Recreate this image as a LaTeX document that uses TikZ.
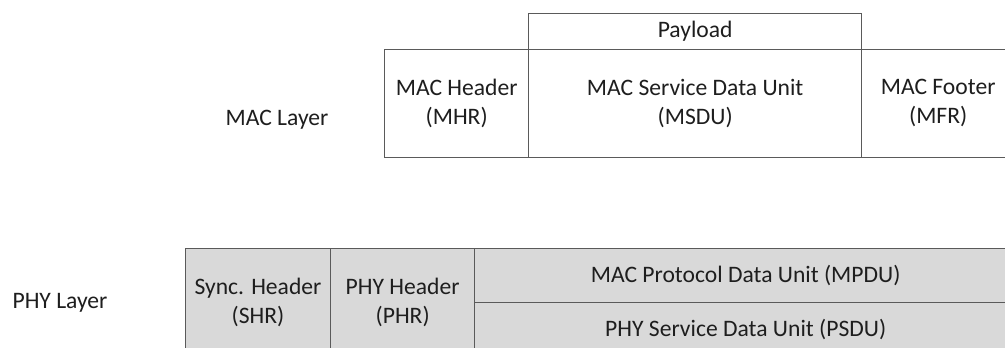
\documentclass[tikz,border=0pt]{standalone}
\usepackage{fontspec}
\setmainfont{Carlito}
\definecolor{frameC}{RGB}{90,90,90}
\definecolor{shadeC}{RGB}{217,217,217}
\definecolor{inkC}{RGB}{30,30,30}
\tikzset{
  cell/.style={draw=frameC, line width=1pt, inner sep=0pt, align=center,
               anchor=north west, text=inkC},
  phycell/.style={cell, fill=shadeC},
  caption/.style={text=inkC, inner sep=0pt, anchor=base}
}
\begin{document}
\begin{tikzpicture}[x=0.75pt, y=-0.75pt,
  every node/.append style={font=\fontsize{17.7}{21.6}\selectfont}]
\useasboundingbox (0,0) rectangle (1005,348);
\clip (0,0) rectangle (1005,348);
\fill[white] (0,0) rectangle (1005,348);

% MAC layer frame
\node[caption] (maclayer) at (277,125.7) {MAC Layer};
\node[cell, minimum width=144*0.75pt, minimum height=108*0.75pt] (mhr) at (384,48.7) {MAC Header\\(MHR)};
\node[cell, minimum width=333*0.75pt, minimum height=108*0.75pt] (msdu) at (528,48.7) {MAC Service Data Unit\\(MSDU)};
\node[cell, minimum width=153*0.75pt, minimum height=108*0.75pt] (mfr) at (861,48.7) {MAC Footer\\(MFR)};
\node[cell, minimum width=333*0.75pt, minimum height=36*0.75pt] (payload) at (528,12.7) {Payload};

% PHY layer frame
\node[caption] (phylayer) at (60,309) {PHY Layer};
\node[phycell, minimum width=145.3*0.75pt, minimum height=108*0.75pt] (shr) at (184.7,248) {Sync. Header\\(SHR)};
\node[phycell, minimum width=144*0.75pt, minimum height=108*0.75pt] (phr) at (330,248) {PHY Header\\(PHR)};
\node[phycell, minimum width=542*0.75pt, minimum height=54*0.75pt] (mpdu) at (474,248) {MAC Protocol Data Unit (MPDU)};
\node[phycell, minimum width=542*0.75pt, minimum height=54*0.75pt] (psdu) at (474,302) {PHY Service Data Unit (PSDU)};
\end{tikzpicture}
\end{document}
